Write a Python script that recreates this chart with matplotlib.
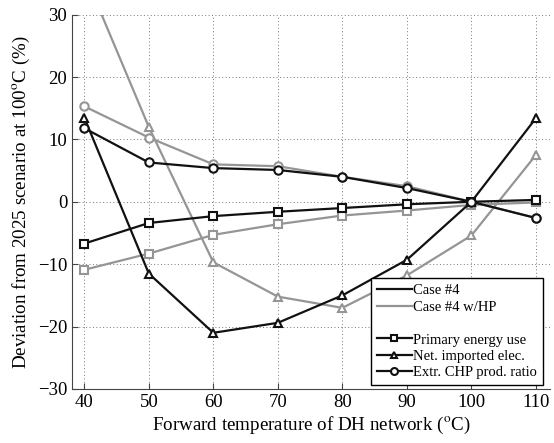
import numpy as np
import matplotlib.pyplot as plt
from matplotlib.lines import Line2D

plt.rcParams['font.family'] = ['Liberation Serif', 'DejaVu Serif']
plt.rcParams['mathtext.fontset'] = 'stix'

temps = [40, 50, 60, 70, 80, 90, 100, 110]

# Case #4
case4_primary = [-6.7, -3.4, -2.3, -1.6, -1.0, -0.4, 0.0, 0.3]
case4_elec = [13.5, -11.5, -21.0, -19.4, -15.0, -9.3, 0.0, 13.4]
case4_chp = [11.8, 6.3, 5.4, 5.1, 4.0, 2.2, 0.0, -2.6]

# Case #4 w/HP
hp_primary = [-10.9, -8.3, -5.3, -3.6, -2.2, -1.4, -0.5, -0.1]
hp_elec = [36.6, 12.0, -9.7, -15.2, -17.0, -11.8, -5.4, 7.5]
hp_chp = [15.3, 10.3, 6.0, 5.7, 4.0, 2.5, 0.0, -2.6]

black = '#111111'
gray = '#959595'

fig = plt.figure(figsize=(5.54, 4.43), dpi=100)
ax = fig.add_axes([0.130, 0.122, 0.863, 0.845])

mk = dict(markerfacecolor='white', markersize=6, markeredgewidth=1.5, linewidth=1.6)

# gray series first, black on top
ax.plot(temps, hp_primary, color=gray, marker='s', markeredgecolor=gray, **mk)
ax.plot(temps, hp_elec, color=gray, marker='^', markeredgecolor=gray, **mk)
ax.plot(temps, hp_chp, color=gray, marker='o', markeredgecolor=gray, **mk)
ax.plot(temps, case4_primary, color=black, marker='s', markeredgecolor=black, **mk)
ax.plot(temps, case4_elec, color=black, marker='^', markeredgecolor=black, **mk)
ax.plot(temps, case4_chp, color=black, marker='o', markeredgecolor=black, **mk)

ax.set_xlim(38.1, 112.2)
ax.set_ylim(-30, 30)
ax.set_xticks(temps)
ax.set_yticks([-30, -20, -10, 0, 10, 20, 30])
ax.grid(True, linestyle=(0, (1, 2.5)), color='#777777', linewidth=0.7)
ax.spines['top'].set_visible(False)
ax.spines['right'].set_visible(False)
ax.spines['left'].set_color('#444444')
ax.spines['bottom'].set_color('#444444')
ax.tick_params(direction='in', labelsize=13.5, length=4, color='#444444')

ax.set_xlabel('Forward temperature of DH network ($^{\\rm o}$C)', fontsize=13.7, labelpad=3)
ax.set_ylabel('Deviation from 2025 scenario at 100$^{\\rm o}$C (%)', fontsize=13.7)

handles = [
    Line2D([], [], color=black, linewidth=1.6),
    Line2D([], [], color=gray, linewidth=1.6),
    Line2D([], [], color='none'),
    Line2D([], [], color=black, marker='s', markerfacecolor='white', markersize=5, markeredgewidth=1.5, linewidth=1.6),
    Line2D([], [], color=black, marker='^', markerfacecolor='white', markersize=5, markeredgewidth=1.5, linewidth=1.6),
    Line2D([], [], color=black, marker='o', markerfacecolor='white', markersize=5, markeredgewidth=1.5, linewidth=1.6),
]
labels = ['Case #4', 'Case #4 w/HP', ' ', 'Primary energy use', 'Net. imported elec.', 'Extr. CHP prod. ratio']
leg = ax.legend(handles, labels, loc='lower right', bbox_to_anchor=(0.985, 0.01), fontsize=10.5,
                frameon=True, fancybox=False, framealpha=1, edgecolor='black',
                handlelength=2.4, handletextpad=0.1, labelspacing=0.22, borderpad=0.4, borderaxespad=0)
leg.get_frame().set_linewidth(1.0)

plt.savefig('out.png', dpi=100)
